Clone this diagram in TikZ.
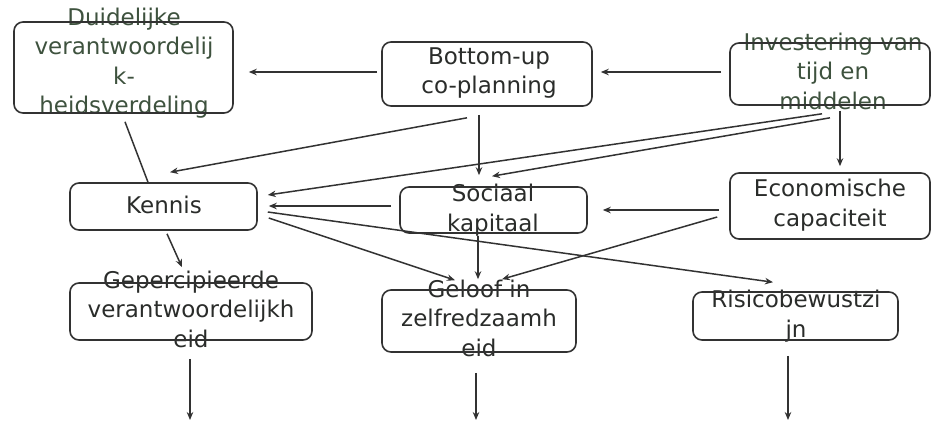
\documentclass[tikz,border=0pt]{standalone}
\usepackage{fontspec}
\setmainfont{DejaVu Sans}
\usetikzlibrary{calc,arrows.meta}
\definecolor{lijnkleur}{RGB}{50,50,50}
\definecolor{tekstkleur}{RGB}{42,44,42}
\definecolor{groenkleur}{RGB}{62,82,62}
\tikzset{
	vak/.style={draw=lijnkleur, line width=1.6pt, rounded corners=9pt, inner sep=0pt},
	woorden/.style={text=tekstkleur, align=center, inner sep=0pt, font=\fontsize{23}{29.5}\selectfont},
	pijl/.style={draw=lijnkleur, line width=1.5pt, -{Stealth[length=8pt,width=6.5pt]}},
	lijn/.style={draw=lijnkleur, line width=1.5pt}
}

\begin{document}
\begin{tikzpicture}[x=1pt, y=-1pt]
		%%%%% START %%%%%
		\useasboundingbox (0,0) rectangle (932,424);
		
		% teksten
		\node[woorden, text=groenkleur] (duid-t) at (124,63) {Duidelijke\\verantwoordelij\\k-\\heidsverdeling};
		\node[woorden] (bu-t) at (489,73) {Bottom-up\\co-planning};
		\node[woorden, text=groenkleur] (inv-t) at (833,71) {Investering van\\tijd en\\middelen};
		\node[woorden] (ken-t) at (164,205) {Kennis};
		\node[woorden] (soc-t) at (493,210) {Sociaal\\kapitaal};
		\node[woorden] (eco-t) at (830,205) {Economische\\capaciteit};
		\node[woorden] (gep-t) at (191,309) {Gepercipieerde\\verantwoordelijkh\\eid};
		\node[woorden] (gel-t) at (479,318) {Geloof in\\zelfredzaamh\\eid};
		\node[woorden] (ris-t) at (796,316) {Risicobewustzi\\jn};
		
		% vakken
		\node[vak, minimum width=219pt, minimum height=91pt] (duid) at (123.5,67.5) {};
		\node[vak, minimum width=210pt, minimum height=64pt] (bu) at (487,74) {};
		\node[vak, minimum width=200pt, minimum height=62pt] (inv) at (830,74) {};
		\node[vak, minimum width=187pt, minimum height=47pt] (ken) at (163.5,206.5) {};
		\node[vak, minimum width=187pt, minimum height=46pt] (soc) at (493.5,210) {};
		\node[vak, minimum width=200pt, minimum height=66pt] (eco) at (830,206) {};
		\node[vak, minimum width=242pt, minimum height=57pt] (gep) at (191,311.5) {};
		\node[vak, minimum width=194pt, minimum height=62pt] (gel) at (479,321) {};
		\node[vak, minimum width=205pt, minimum height=48pt] (ris) at (795.5,316) {};
		
		\coordinate (gep-uit) at (190,420);
		\coordinate (gel-uit) at (476,420);
		\coordinate (ris-uit) at (788,420);
		
		% bovenste rij
		\draw[pijl] ($(bu.west)+(-4,-2)$) -- ($(duid.east)+(15,4.5)$);
		\draw[pijl] ($(inv.west)+(-8,-2)$) -- ($(bu.east)+(8,-2)$);
		\draw[lijn] ($(duid.south)+(1.5,8)$) -- ($(ken.north)+(-15.5,0)$);
		\draw[pijl] ($(bu.south)+(-20,11)$) -- ($(ken.north)+(6.5,-10)$);
		\draw[pijl] ($(bu.south)+(-8,8)$) -- ($(soc.north)+(-14.5,-11)$);
		\draw[pijl] ($(inv.south)+(-8,8)$) -- ($(ken.east)+(10,-11.5)$);
		\draw[pijl] ($(inv.south)+(0,12)$) -- ($(soc.north)+(-1.5,-10)$);
		\draw[pijl] ($(inv.south)+(10,5)$) -- ($(eco.north)+(10,-6)$);
		
		% middelste rij
		\draw[pijl] ($(soc.west)+(-8,-4)$) -- ($(ken.east)+(11,-0.5)$);
		\draw[pijl] ($(eco.west)+(-10,4)$) -- ($(soc.east)+(15,0)$);
		\draw[pijl] ($(ken.east)+(10,5.5)$) -- ($(ris.north)+(-22.5,-9)$);
		\draw[pijl] ($(ken.east)+(11,11.5)$) -- ($(gel.north)+(-24,-9)$);
		\draw[pijl] ($(soc.south)+(-15.5,2)$) -- ($(gel.north)+(-1,-10)$);
		\draw[pijl] ($(eco.west)+(-12,11)$) -- ($(gel.north)+(23,-10)$);
		\draw[pijl] ($(ken.south)+(3.5,3)$) -- ($(gep.north)+(-9,-15)$);
		
		% onderste rij
		\draw[pijl] ($(gep.south)+(-1,18)$) -- (gep-uit);
		\draw[pijl] ($(gel.south)+(-3,20)$) -- (gel-uit);
		\draw[pijl] ($(ris.south)+(-7.5,15)$) -- (ris-uit);
		
		%%%%% END %%%%%
	\end{tikzpicture}
\end{document}
